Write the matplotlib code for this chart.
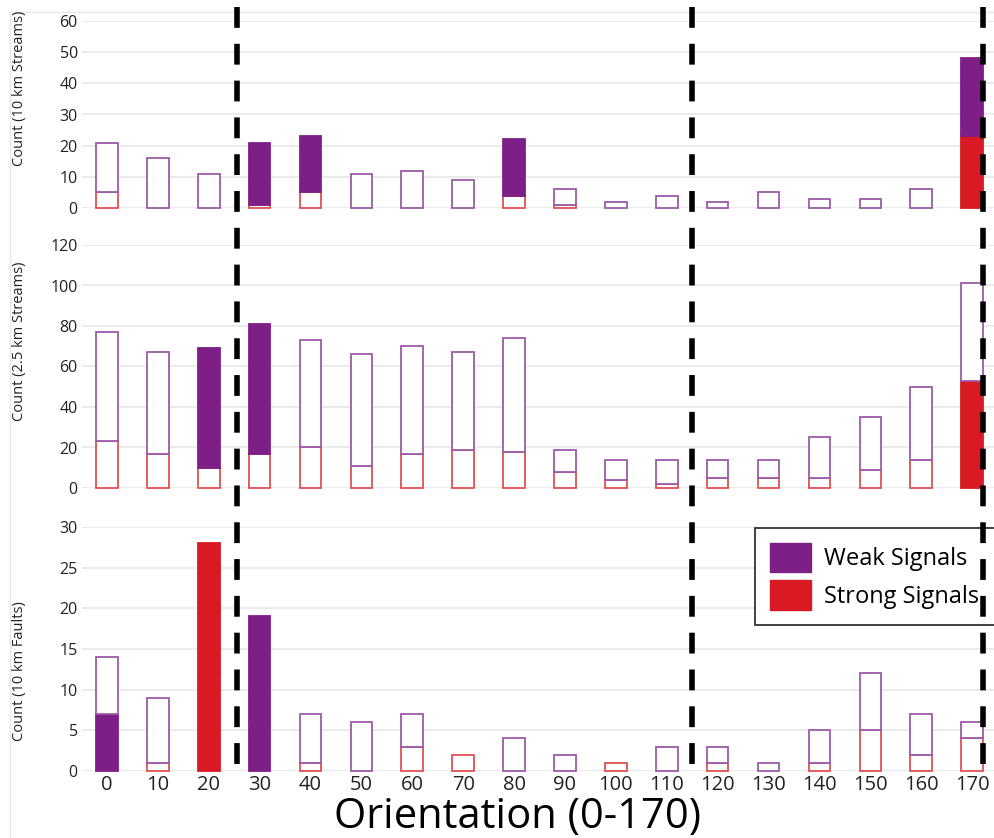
"""Orientation histograms of weak/strong signals for streams and faults."""

import matplotlib
matplotlib.use("Agg")
import matplotlib.pyplot as plt
from matplotlib.lines import Line2D
from matplotlib.patches import Patch, Rectangle
from matplotlib.transforms import blended_transform_factory

plt.rcParams["font.family"] = ["Open Sans", "DejaVu Sans"]

orientations = list(range(0, 180, 10))

# total count per bin and the part of it that is a "strong" signal
streams10_total = [21, 16, 11, 21, 23, 11, 12, 9, 22, 6, 2, 4, 2, 5, 3, 3, 6, 48]
streams10_strong = [5, 0, 0, 1, 5, 0, 0, 0, 4, 1, 0, 0, 0, 0, 0, 0, 0, 23]
streams25_total = [77, 67, 69, 81, 73, 66, 70, 67, 74, 19, 14, 14, 14, 14, 25, 35, 50, 101]
streams25_strong = [23, 17, 10, 17, 20, 11, 17, 19, 18, 8, 4, 2, 5, 5, 5, 9, 14, 53]
faults10_total = [14, 9, 28, 19, 7, 6, 7, 2, 4, 2, 1, 3, 3, 1, 5, 12, 7, 6]
faults10_strong = [7, 1, 12, 6, 1, 0, 3, 2, 0, 0, 1, 0, 1, 0, 1, 5, 2, 4]

# highlighted bins: which signal class fills the lower / upper segment
streams10_lower_fill = {170: "strong"}
streams10_upper_fill = {30: "weak", 40: "weak", 80: "weak", 170: "weak"}
streams25_lower_fill = {170: "strong"}
streams25_upper_fill = {20: "weak", 30: "weak"}
faults10_lower_fill = {0: "weak", 20: "strong", 30: "weak"}
faults10_upper_fill = {20: "strong", 30: "weak"}

boundaries = [25.5, 115, 172.2]

PURPLE = "#7e1f88"
RED = "#d91a24"
EDGE_PURPLE = "#9c5ba7"
EDGE_RED = "#e0504f"
FILL = {"weak": PURPLE, "strong": RED}

W, H = 995, 838
fig = plt.figure(figsize=(W / 100, H / 100), dpi=100)

panels = [
    ("Count (10 km Streams)", streams10_total, streams10_strong,
     streams10_lower_fill, streams10_upper_fill, 60, 10, (21, 208), 88),
    ("Count (2.5 km Streams)", streams25_total, streams25_strong,
     streams25_lower_fill, streams25_upper_fill, 120, 20, (245, 488), 341),
    ("Count (10 km Faults)", faults10_total, faults10_strong,
     faults10_lower_fill, faults10_upper_fill, 30, 5, (527, 771), 671),
]

left = 82 / W
axes = []
for label, total, strong, lower_fill, upper_fill, ymax, ystep, (ytop, ybot), ylab in panels:
    ax = fig.add_axes([left, 1 - ybot / H, 1 - left, (ybot - ytop) / H])
    axes.append(ax)

    for x, tot, st in zip(orientations, total, strong):
        # strong part at the bottom
        if st > 0:
            cls = lower_fill.get(x)
            ax.bar(x, st, width=4.25, bottom=0,
                   facecolor=FILL[cls] if cls else "white",
                   edgecolor=FILL[cls] if cls else EDGE_RED,
                   linewidth=1.3, zorder=3, clip_on=False)
        # weak part on top
        if tot > st:
            cls = upper_fill.get(x)
            ax.bar(x, tot - st, width=4.25, bottom=st,
                   facecolor=FILL[cls] if cls else "white",
                   edgecolor=FILL[cls] if cls else EDGE_PURPLE,
                   linewidth=1.3, zorder=4, clip_on=False)

    ax.set_xlim(-4.9, 174.5)
    ax.set_ylim(0, ymax)
    ax.set_yticks(range(0, ymax + 1, ystep))
    ax.grid(axis="y", color="#e6e6e6", linewidth=1.1, zorder=0)
    ax.set_axisbelow(True)
    for s in ax.spines.values():
        s.set_visible(False)
    ax.tick_params(axis="both", length=0, colors="#222222")
    ax.tick_params(axis="y", labelsize=11.5, pad=3)
    ax.set_xticks(orientations)
    ax.tick_params(axis="x", labelbottom=False)

    fig.text(20 / W, 1 - ylab / H, label, rotation=90, ha="center", va="center",
             fontsize=10.5, color="#222222",
             family=["Liberation Sans Narrow", "Open Sans"])

axes[-1].tick_params(axis="x", labelbottom=True, labelsize=14.5, pad=3)

# dashed boundaries running through all three panels
trans = blended_transform_factory(axes[-1].transData, fig.transFigure)
for xb in boundaries:
    fig.add_artist(Line2D([xb, xb], [1 - 7 / H, 1 - 768 / H], transform=trans,
                          color="black", linewidth=4,
                          linestyle=(0, (15 / 4, 11.5 / 4)), zorder=10))

leg = axes[-1].legend(
    handles=[Patch(facecolor=PURPLE, edgecolor=PURPLE),
             Patch(facecolor=RED, edgecolor=RED)],
    labels=["Weak Signals", "Strong Signals"],
    loc="upper left", bbox_to_anchor=(755 / W, 1 - 626 / H, 260 / W, 98 / H),
    bbox_transform=fig.transFigure, mode="expand", fancybox=False,
    edgecolor="#333333", framealpha=1, fontsize=17, handlelength=1.75,
    handleheight=1.55, handletextpad=0.55, labelspacing=0.35, borderpad=0.62,
    borderaxespad=0)
leg.get_frame().set_linewidth(1.3)
leg.set_zorder(8)

fig.text(518 / W, 1 - 828 / H, "Orientation (0-170)", ha="center", va="baseline",
         fontsize=30, color="black")

# faint outer chart border
fig.add_artist(Rectangle((10 / W, -0.01), 1.0, 1 - 12 / H + 0.01,
                         transform=fig.transFigure, fill=False,
                         edgecolor="#e8e8e8", linewidth=1))

fig.savefig("out.png", dpi=100)
